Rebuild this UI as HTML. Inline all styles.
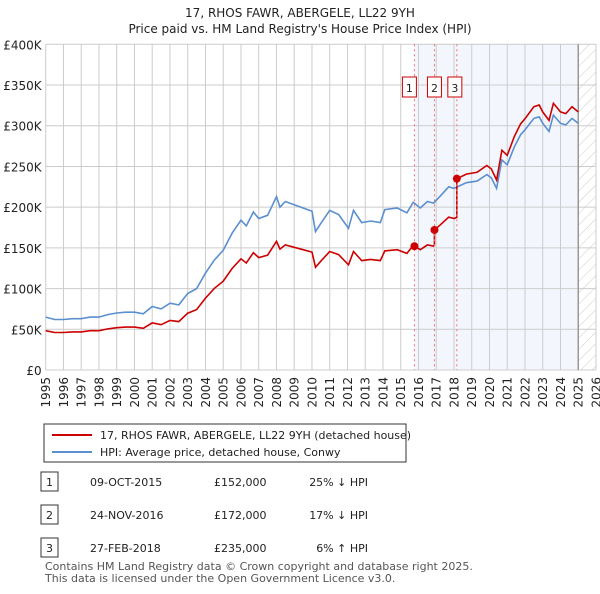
<!DOCTYPE html>
<html><head><meta charset="utf-8"><style>
body{margin:0;background:#fff;font-family:"DejaVu Sans","Liberation Sans",sans-serif;}
svg text{font-family:"DejaVu Sans","Liberation Sans",sans-serif;}
</style></head><body>
<svg id="c" width="600" height="590">
<defs><pattern id="hatch" width="8" height="8" patternUnits="userSpaceOnUse" patternTransform="rotate(45)"><line x1="0" y1="0" x2="0" y2="8" stroke="#ccc" stroke-width="1"/></pattern></defs>
<text x="300" y="17" text-anchor="middle" font-size="12" fill="#222">17, RHOS FAWR, ABERGELE, LL22 9YH</text>
<text x="300" y="33" text-anchor="middle" font-size="12" fill="#222">Price paid vs. HM Land Registry's House Price Index (HPI)</text>
<g id="plot"></g>
<rect x="44" y="424" width="362" height="38" fill="#fff" stroke="#333"/>
<line x1="52" y1="435" x2="92" y2="435" stroke="#cc0000" stroke-width="2"/>
<text x="100" y="439" font-size="11" fill="#222">17, RHOS FAWR, ABERGELE, LL22 9YH (detached house)</text>
<line x1="52" y1="452" x2="92" y2="452" stroke="#5b8fd0" stroke-width="2"/>
<text x="100" y="456" font-size="11" fill="#222">HPI: Average price, detached house, Conwy</text>
<g id="tbl"></g>
<text x="45" y="570" font-size="11" fill="#555">Contains HM Land Registry data © Crown copyright and database right 2025.</text>
<text x="45" y="582" font-size="11" fill="#555">This data is licensed under the Open Government Licence v3.0.</text>
</svg>
<script>
const hpiYears=[1995,1995.5,1996,1996.5,1997,1997.5,1998,1998.5,1999,1999.5,2000,2000.5,2001,2001.5,2002,2002.5,2003,2003.5,2004,2004.5,2005,2005.5,2006,2006.3,2006.7,2007,2007.5,2008,2008.2,2008.5,2009,2009.5,2010,2010.2,2010.5,2011,2011.5,2012.06,2012.34,2012.8,2013.3,2013.85,2014.1,2014.8,2015.35,2015.7,2016.1,2016.5,2016.85,2017.2,2017.7,2018,2018.7,2019.3,2019.85,2020.1,2020.4,2020.7,2021,2021.4,2021.75,2022,2022.5,2022.8,2023,2023.35,2023.6,2024,2024.3,2024.65,2025];
const hpiValues=[65,62,62,63,63,65,65,68,70,71,71,69,78,75,82,80,94,100,119,135,147,168,184,177,194,186,190,213,200,207,203,199,195,170,180,196,191,174,196,181,183,181,197,199,193,206,199,207,205,213,225,223,230,232,240,236,223,258,252,274,289,295,309,311,303,293,313,303,301,309,303];
const saleYears=[2015.77,2016.9,2018.16];
const salePrices=[152,172,235];
const saleLabels=["1","2","3"];
const saleDates=["09-OCT-2015","24-NOV-2016","27-FEB-2018"];
const saleDiffs=["25% ↓ HPI","17% ↓ HPI","6% ↑ HPI"];
const yTicks=[0,50,100,150,200,250,300,350,400];
const yTickLabels=["£0","£50K","£100K","£150K","£200K","£250K","£300K","£350K","£400K"];
const xTicks=[1995,1996,1997,1998,1999,2000,2001,2002,2003,2004,2005,2006,2007,2008,2009,2010,2011,2012,2013,2014,2015,2016,2017,2018,2019,2020,2021,2022,2023,2024,2025,2026];
const NS="http://www.w3.org/2000/svg";
const X0=45.7,X1=596,Y0=370,Y1=44.3;
const xs=y=>X0+(y-1995)*(X1-X0)/31;
const ys=v=>Y0-v*(Y0-Y1)/400;
const g=document.getElementById('plot');
function mk(t,a,p){const e=document.createElementNS(NS,t);for(const k in a)e.setAttribute(k,a[k]);(p||g).appendChild(e);return e;}
function hpiAt(t){if(t<=hpiYears[0])return hpiValues[0];for(let i=1;i<hpiYears.length;i++){if(t<=hpiYears[i]){const f=(t-hpiYears[i-1])/(hpiYears[i]-hpiYears[i-1]);return hpiValues[i-1]+f*(hpiValues[i]-hpiValues[i-1]);}}return hpiValues[hpiValues.length-1];}
let e;
e=mk('rect',{x:xs(saleYears[0]),y:Y1,width:xs(2025)-xs(saleYears[0]),height:Y0-Y1,fill:'#eef3fc',opacity:0.7});


e=mk('rect',{x:xs(2025),y:Y1,width:X1-xs(2025),height:Y0-Y1,fill:'url(#hatch)'});


yTicks.forEach((v,i)=>{
 e=mk('line',{x1:X0,x2:X1,y1:ys(v),y2:ys(v),stroke:'#ccc','stroke-width':1});
 
 
 e=mk('text',{x:X0-4,y:ys(v)+5,'text-anchor':'end','font-size':12,fill:'#222'});e.textContent=yTickLabels[i];
 
 
});
xTicks.forEach(t=>{
 e=mk('line',{x1:xs(t),x2:xs(t),y1:Y1,y2:Y0,stroke:'#ccc','stroke-width':1});
 
 
 const tx=xs(t)+4.5,ty=Y0+7;
 e=mk('text',{x:tx,y:ty,'text-anchor':'end','font-size':12,fill:'#222',transform:`rotate(-90 ${tx} ${ty})`});e.textContent=t;
 
 
});
e=mk('line',{x1:xs(2025),x2:xs(2025),y1:Y1,y2:Y0,stroke:'#999','stroke-width':1.5});


const redPts=[];
function ratioAt(t){let r=salePrices[0]/hpiAt(saleYears[0]);for(let i=0;i<saleYears.length;i++){if(t>=saleYears[i])r=salePrices[i]/hpiAt(saleYears[i]);}return r;}
const tt=[...hpiYears];saleYears.forEach(s=>{tt.push(s-0.001);tt.push(s);});tt.sort((a,b)=>a-b);
tt.forEach(t=>redPts.push(xs(t).toFixed(1)+','+ys(hpiAt(t)*ratioAt(t)).toFixed(1)));
e=mk('polyline',{points:hpiYears.map((t,i)=>xs(t).toFixed(1)+','+ys(hpiValues[i]).toFixed(1)).join(' '),fill:'none',stroke:'#5b8fd0','stroke-width':1.6});


e=mk('polyline',{points:redPts.join(' '),fill:'none',stroke:'#cc0000','stroke-width':1.6});


saleYears.forEach((s,i)=>{
 e=mk('line',{x1:xs(s),x2:xs(s),y1:Y1,y2:Y0,stroke:'#f07070','stroke-width':1,'stroke-dasharray':'2,3'});
 
 
 e=mk('circle',{cx:xs(s),cy:ys(salePrices[i]),r:4,fill:'#cc0000'});
 
 
 const lx=xs(s)-(i==0?5:i==1?0:2);
 e=mk('rect',{x:lx-7,y:77,width:14,height:20,fill:'#fff',stroke:'#cc0000'});
 
 
 e=mk('text',{x:lx,y:92,'text-anchor':'middle','font-size':11,fill:'#222'});e.textContent=saleLabels[i];
 
 
});
const tb=document.getElementById('tbl');
saleYears.forEach((s,i)=>{
 const y=482+i*33;
 e=mk('rect',{x:41,y:y-10,width:17,height:19,fill:'#fff',stroke:'#333'},tb);
 
 
 e=mk('text',{x:49.5,y:y+4,'text-anchor':'middle','font-size':11,fill:'#222'},tb);e.textContent=saleLabels[i];
 
 
 e=mk('text',{x:90,y:y+4,'font-size':11,fill:'#222'},tb);e.textContent=saleDates[i];
 
 
 e=mk('text',{x:214,y:y+4,'font-size':11,fill:'#222'},tb);e.textContent='£'+salePrices[i]+',000';
 
 
 e=mk('text',{x:368,y:y+4,'text-anchor':'end','font-size':11,fill:'#222'},tb);e.textContent=saleDiffs[i];
 
 
});
</script>
</body></html>
